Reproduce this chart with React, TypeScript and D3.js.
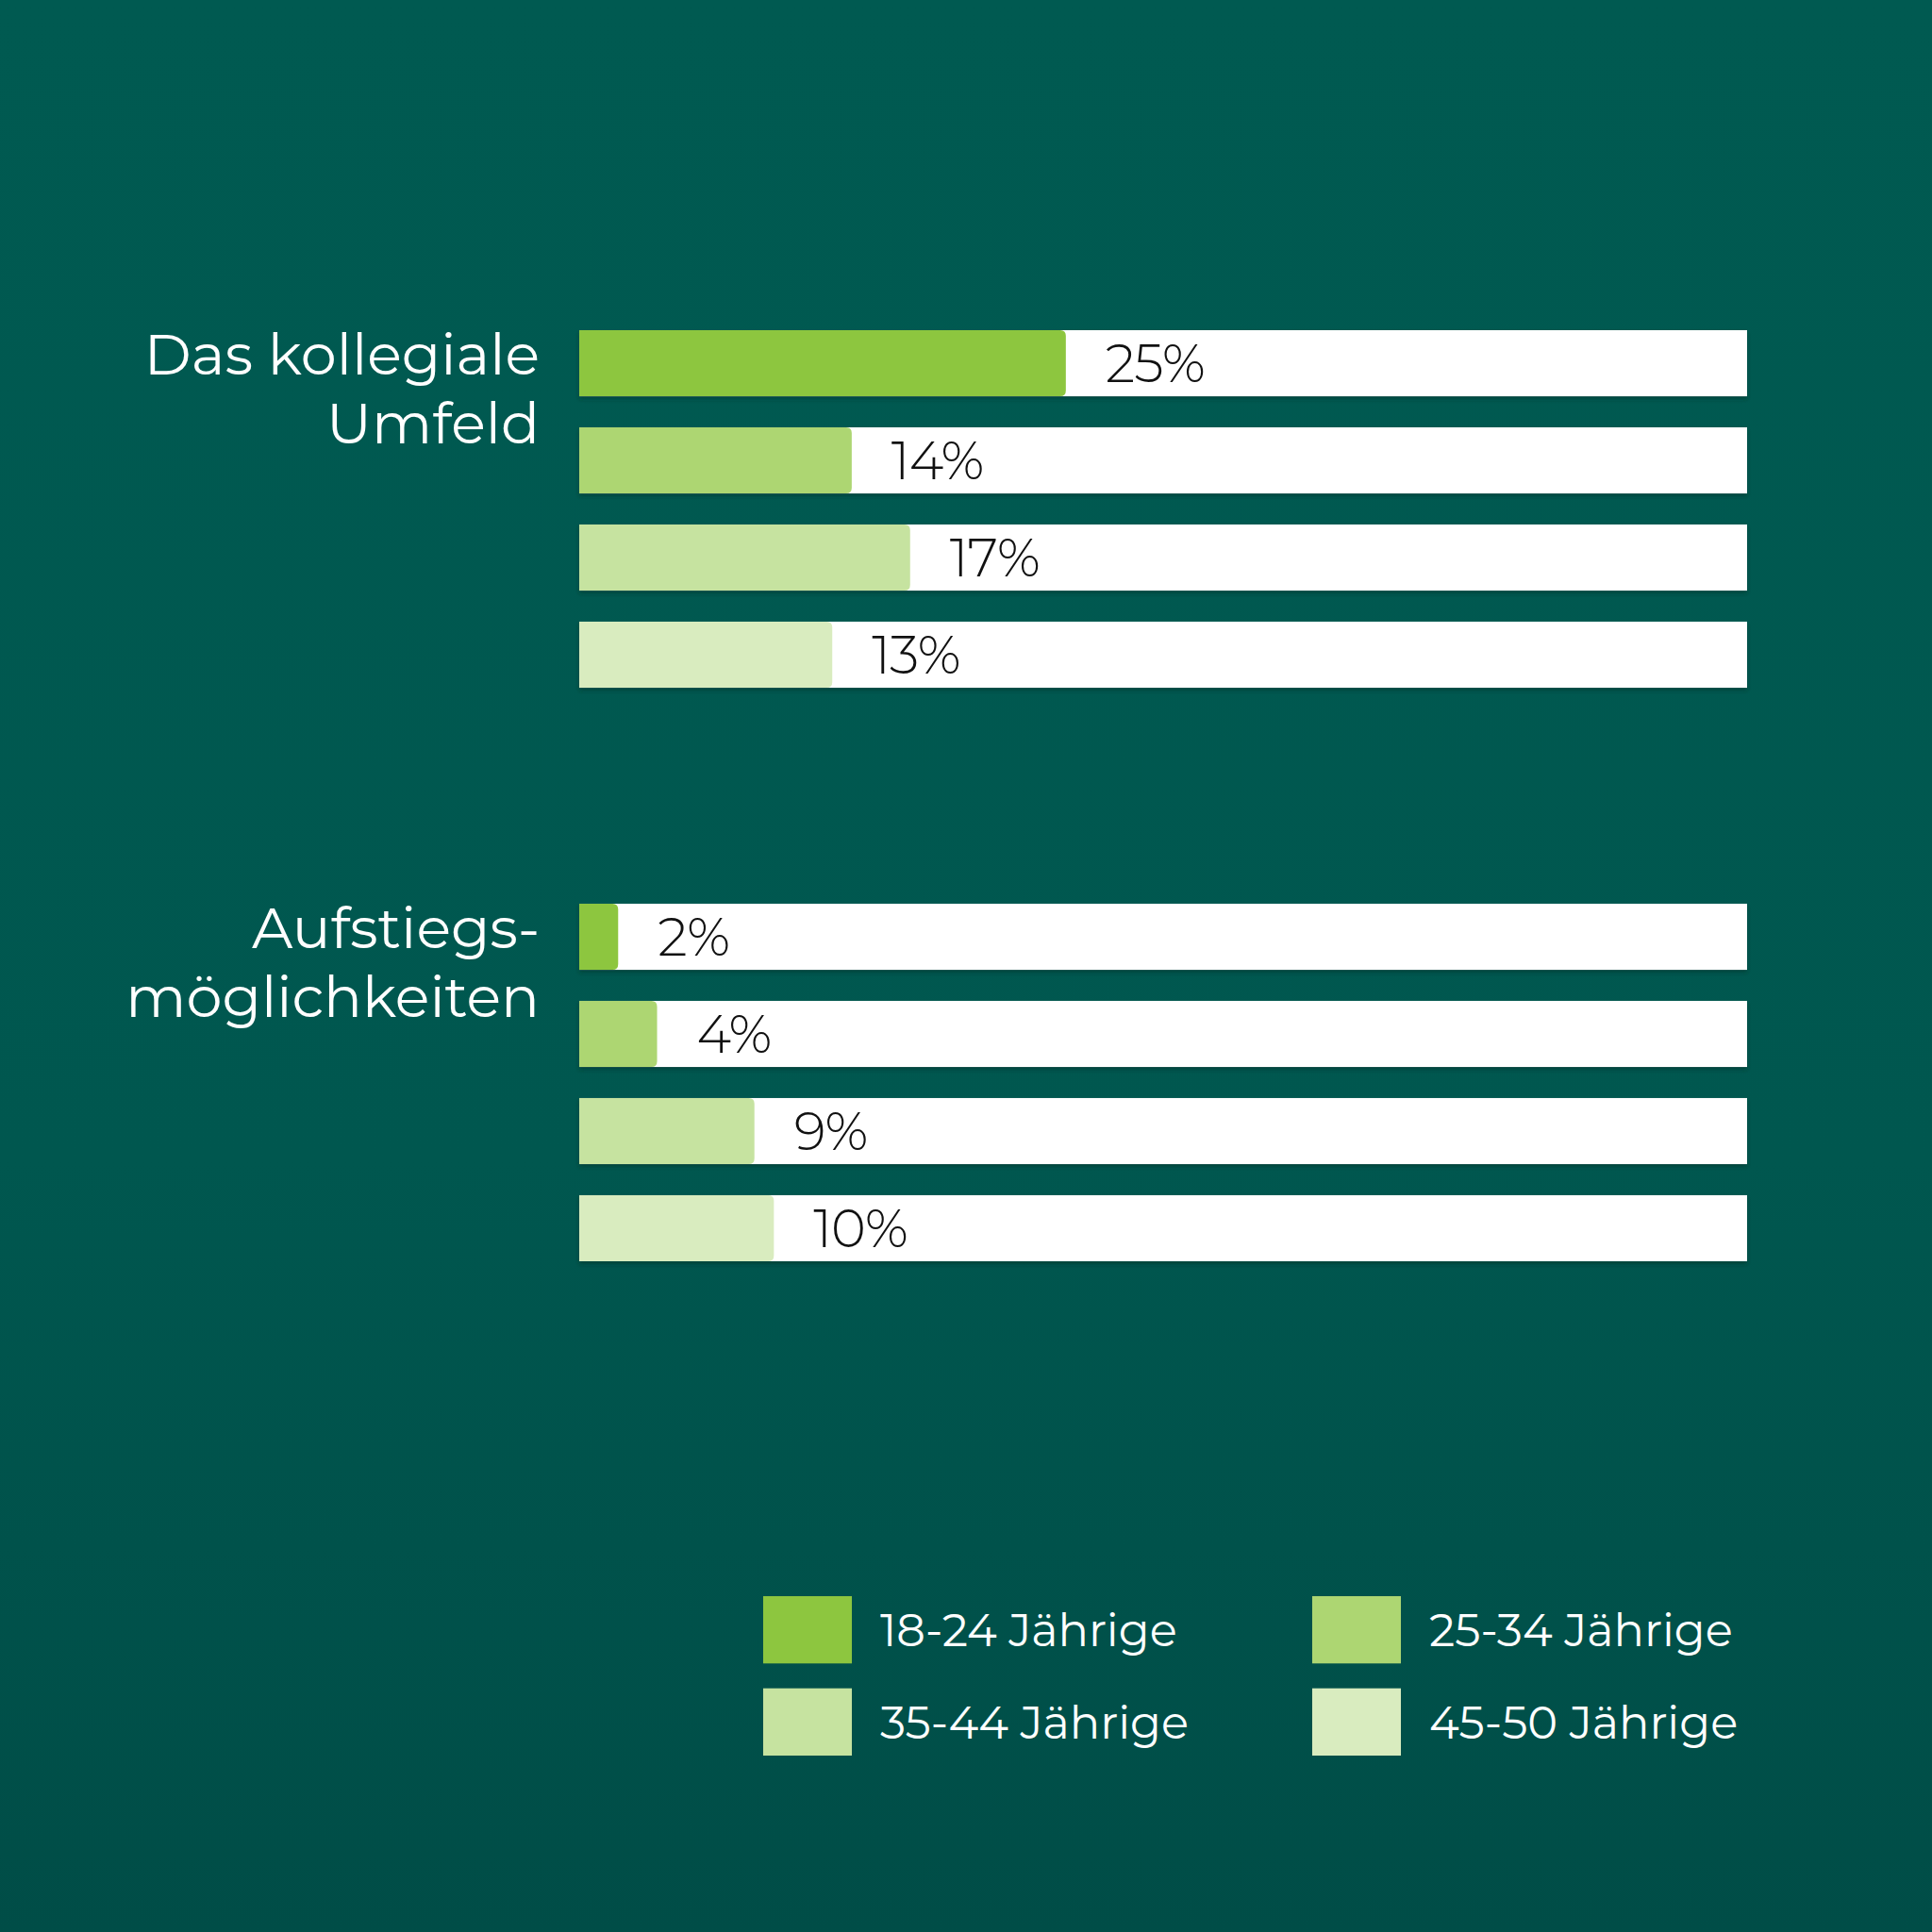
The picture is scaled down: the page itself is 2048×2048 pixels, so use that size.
import { useEffect, useRef } from 'react'
import * as d3 from 'd3'

const GROUPS = ['Das kollegiale Umfeld', 'Aufstiegsmöglichkeiten']
const GROUP_LINES: string[][] = [['Das kollegiale', 'Umfeld'], ['Aufstiegs-', 'möglichkeiten']]
const AGES = ['18-24 Jährige', '25-34 Jährige', '35-44 Jährige', '45-50 Jährige']
const UMFELD = [25, 14, 17, 13]
const AUFSTIEG = [2, 4, 9, 10]
const AGE_COLOR = ['#8DC63F', '#ADD672', '#C6E3A0', '#D9ECBF']

const W = 2048
const H = 2048
const FONT = "Montserrat, Inter, 'Open Sans', sans-serif"

// right-rounded bar: square on the axis side, rounded at the value end
const barPath = (x0: number, x1: number, y: number, h: number, r: number) => {
  const rr = Math.min(r, (x1 - x0) / 2, h / 2)
  return `M${x0},${y}H${x1 - rr}Q${x1},${y} ${x1},${y + rr}V${y + h - rr}Q${x1},${y + h} ${x1 - rr},${y + h}H${x0}Z`
}

export default function App() {
  const svgRef = useRef<SVGSVGElement>(null)

  useEffect(() => {
    document.body.style.margin = '0'
    const svg = d3.select(svgRef.current).attr('viewBox', `0 0 ${W} ${H}`)
    svg.selectAll('*').remove()

    const defs = svg.append('defs')
    const bg = defs.append('linearGradient').attr('id', 'bg').attr('x1', 0).attr('x2', 0).attr('y1', 0).attr('y2', 1)
    bg.append('stop').attr('offset', '0%').attr('stop-color', '#005A51')
    bg.append('stop').attr('offset', '60%').attr('stop-color', '#00574F')
    bg.append('stop').attr('offset', '100%').attr('stop-color', '#004D47')
    defs.append('filter').attr('id', 'sh').attr('x', '-5%').attr('y', '-20%').attr('width', '110%').attr('height', '150%')
      .append('feDropShadow').attr('dx', 0).attr('dy', 3).attr('stdDeviation', 2)
      .attr('flood-color', '#002a25').attr('flood-opacity', 0.45)

    svg.append('rect').attr('width', W).attr('height', H).attr('fill', 'url(#bg)')

    const x = d3.scaleLinear().domain([0, 60]).range([614, 1852])
    const gy = d3.scaleBand<string>().domain(GROUPS).range([350, 1337]).paddingInner(0.3766)
    const ry = d3.scaleBand<string>().domain(AGES).range([0, gy.bandwidth()]).paddingInner(0.32)
    const series = [UMFELD, AUFSTIEG]

    GROUPS.forEach((grp, gi) => {
      const g = svg.append('g').attr('transform', `translate(0,${gy(grp)})`)
      const rows = AGES.map((a, i) => ({ age: a, v: series[gi][i], c: AGE_COLOR[i] }))

      g.selectAll('rect.track').data(rows).join('rect').attr('class', 'track')
        .attr('x', x(0)).attr('y', (d) => ry(d.age)!).attr('width', x.range()[1] - x(0))
        .attr('height', ry.bandwidth()).attr('fill', '#FFFFFF').attr('filter', 'url(#sh)')

      g.selectAll('path.bar').data(rows).join('path').attr('class', 'bar')
        .attr('d', (d) => barPath(x(0), x(d.v), ry(d.age)!, ry.bandwidth(), 6))
        .attr('fill', (d) => d.c)

      g.selectAll('text.val').data(rows).join('text').attr('class', 'val')
        .attr('x', (d) => x(d.v) + 42).attr('y', (d) => ry(d.age)! + ry.bandwidth() / 2 + 20)
        .attr('font-family', FONT).attr('font-weight', 300).attr('font-size', 56)
        .attr('fill', '#111111').attr('letter-spacing', -1).text((d) => `${d.v}%`)

      const lab = g.append('text').attr('text-anchor', 'end').attr('font-family', FONT)
        .attr('font-size', 60.5).attr('fill', '#FFFFFF')
      GROUP_LINES[gi].forEach((line, li) => {
        lab.append('tspan').attr('x', 572).attr('y', 47 + li * 73).text(line)
      })
    })

    // legend: 2 x 2
    const lx = d3.scalePoint<number>().domain([0, 1]).range([809, 1391])
    const ly = d3.scaleBand<number>().domain([0, 1]).range([1692, 1861]).paddingInner(0.27)
    const leg = svg.append('g').selectAll('g').data(AGES).join('g')
      .attr('transform', (_d, i) => `translate(${lx(i % 2)},${ly(Math.floor(i / 2))})`)
    leg.append('rect').attr('width', 94).attr('height', ly.bandwidth()).attr('fill', (_d, i) => AGE_COLOR[i])
    leg.append('text').attr('x', 124).attr('y', 53)
      .attr('font-family', FONT).attr('font-size', 48).attr('fill', '#FFFFFF').text((d) => d)
  }, [])

  return (
    <div style={{ position: 'absolute', left: 0, top: 0, width: W, height: H }}>
      <svg ref={svgRef} width={W} height={H} style={{ display: 'block' }} />
    </div>
  )
}
